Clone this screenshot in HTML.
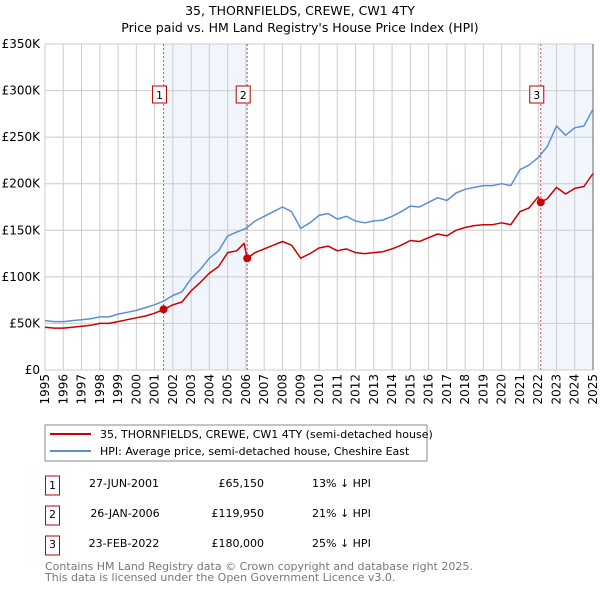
<!DOCTYPE html>
<html><head><meta charset="utf-8"><style>
body{margin:0;background:#fff;width:600px;height:590px;overflow:hidden;font-family:"DejaVu Sans","Liberation Sans",sans-serif;}
svg text{font-family:"DejaVu Sans","Liberation Sans",sans-serif;}
</style></head><body>
<svg id="chart" width="600" height="590">
<text x="300" y="15" text-anchor="middle" font-size="12.5" fill="#000">35, THORNFIELDS, CREWE, CW1 4TY</text>
<text x="300" y="32" text-anchor="middle" font-size="12.5" fill="#000">Price paid vs. HM Land Registry's House Price Index (HPI)</text>
<g id="plot"></g>
<rect x="45" y="425" width="382" height="36" fill="#fff" stroke="#888"/>
<line x1="50" y1="434" x2="91" y2="434" stroke="#cc0000" stroke-width="2"/>
<text x="100" y="438" font-size="11">35, THORNFIELDS, CREWE, CW1 4TY (semi-detached house)</text>
<line x1="50" y1="451" x2="91" y2="451" stroke="#5b8fd4" stroke-width="2"/>
<text x="100" y="455" font-size="11">HPI: Average price, semi-detached house, Cheshire East</text>
<g font-size="11" fill="#000">
<rect x="45.5" y="476" width="14" height="19" fill="#fff" stroke="#b00"/><text x="52.5" y="489" text-anchor="middle">1</text>
<text x="124" y="487" text-anchor="middle">27-JUN-2001</text>
<text x="264" y="487" text-anchor="end">£65,150</text>
<text x="312" y="487">13% ↓ HPI</text>
<rect x="45.5" y="506" width="14" height="19" fill="#fff" stroke="#b00"/><text x="52.5" y="518" text-anchor="middle">2</text>
<text x="125" y="517" text-anchor="middle">26-JAN-2006</text>
<text x="264" y="517" text-anchor="end">£119,950</text>
<text x="312" y="517">21% ↓ HPI</text>
<rect x="45.5" y="536" width="14" height="19" fill="#fff" stroke="#b00"/><text x="52.5" y="548" text-anchor="middle">3</text>
<text x="124" y="547" text-anchor="middle">23-FEB-2022</text>
<text x="264" y="547" text-anchor="end">£180,000</text>
<text x="312" y="547">25% ↓ HPI</text>
</g>
<text x="45" y="570" font-size="11" fill="#777">Contains HM Land Registry data © Crown copyright and database right 2025.</text>
<text x="45" y="581" font-size="11" fill="#777">This data is licensed under the Open Government Licence v3.0.</text>
</svg>
<script>
const hpiYears=[1995,1995.5,1996,1996.5,1997,1997.5,1998,1998.5,1999,1999.5,2000,2000.5,2001,2001.5,2002,2002.5,2003,2003.5,2004,2004.5,2005,2005.5,2006,2006.5,2007,2007.5,2008,2008.5,2009,2009.5,2010,2010.5,2011,2011.5,2012,2012.5,2013,2013.5,2014,2014.5,2015,2015.5,2016,2016.5,2017,2017.5,2018,2018.5,2019,2019.5,2020,2020.5,2021,2021.5,2022,2022.5,2023,2023.5,2024,2024.5,2025];
const hpiValues=[53,52,52,53,54,55,57,57,60,62,64,67,70,74,80,84,98,108,120,128,144,148,152,160,165,170,175,170,152,158,166,168,162,165,160,158,160,161,165,170,176,175,180,185,182,190,194,196,198,198,200,198,215,220,228,240,262,252,260,262,280];
const redYears=[1995,1995.5,1996,1996.5,1997,1997.5,1998,1998.5,1999,1999.5,2000,2000.5,2001,2001.49,2002,2002.5,2003,2003.5,2004,2004.5,2005,2005.5,2005.9,2006.07,2006.5,2007,2007.5,2008,2008.5,2009,2009.5,2010,2010.5,2011,2011.5,2012,2012.5,2013,2013.5,2014,2014.5,2015,2015.5,2016,2016.5,2017,2017.5,2018,2018.5,2019,2019.5,2020,2020.5,2021,2021.5,2022,2022.14,2022.5,2023,2023.5,2024,2024.5,2025];
const redValues=[46,45,45,46,47,48,50,50,52,54,56,58,61,65,70,73,85,94,104,111,126,128,136,120,126,130,134,138,134,120,125,131,133,128,130,126,125,126,127,130,134,139,138,142,146,144,150,153,155,156,156,158,156,170,174,186,180,184,196,189,195,197,211];
const saleYears=[2001.49,2006.07,2022.14];
const salePrices=[65.15,119.95,180];
const saleLabels=["1","2","3"];
const yTicks=[0,50,100,150,200,250,300,350];
const yTickLabels=["£0","£50K","£100K","£150K","£200K","£250K","£300K","£350K"];
const xTicks=[1995,1996,1997,1998,1999,2000,2001,2002,2003,2004,2005,2006,2007,2008,2009,2010,2011,2012,2013,2014,2015,2016,2017,2018,2019,2020,2021,2022,2023,2024,2025];

const L=45,R=593,T=44,B=370;
const xs=y=>L+(y-1995)/30*(R-L);
const ys=v=>B-v/350*(B-T);
const NS="http://www.w3.org/2000/svg";
const g=document.getElementById('plot');
function mk(tag,attrs,parent){const e=document.createElementNS(NS,tag);for(const k in attrs)e.setAttribute(k,attrs[k]);(parent||g).appendChild(e);return e;}

let e;
e=mk('rect',{x:xs(saleYears[0]),y:T,width:xs(saleYears[1])-xs(saleYears[0]),height:B-T,fill:'#eef3fc',opacity:0.8});


e=mk('rect',{x:xs(saleYears[2]),y:T,width:R-xs(saleYears[2]),height:B-T,fill:'#eef3fc',opacity:0.8});



yTicks.forEach((v,i)=>{
 e=mk('line',{x1:L,x2:R,y1:ys(v),y2:ys(v),stroke:'#ccc','stroke-width':1});
 
 
 e=mk('text',{x:L-5,y:ys(v)+4,'text-anchor':'end','font-size':12,fill:'#000'});
 e.textContent=yTickLabels[i];
 
 
});
xTicks.forEach(yr=>{
 e=mk('line',{x1:xs(yr),x2:xs(yr),y1:T,y2:B,stroke:'#ccc','stroke-width':1});
 
 
 e=mk('text',{x:0,y:0,'text-anchor':'end','font-size':12,fill:'#000',transform:`translate(${xs(yr)+4},${B+4}) rotate(-90)`});
 e.textContent=String(yr);
 
 
});
e=mk('line',{x1:R,x2:R,y1:T,y2:B,stroke:'#666','stroke-width':1});



saleYears.forEach((yr,i)=>{
 e=mk('line',{x1:xs(yr),x2:xs(yr),y1:T,y2:B,stroke:'#e05050','stroke-width':1,'stroke-dasharray':'2,2'});
 
 
});

function line(xa,va,col){return mk('path',{d:xa.map((x,i)=>(i?'L':'M')+xs(x).toFixed(1)+','+ys(va[i]).toFixed(1)).join(''),fill:'none',stroke:col,'stroke-width':1.5,'stroke-linejoin':'round'});}
e=line(hpiYears,hpiValues,'#5b8fd4');


e=line(redYears,redValues,'#cc0000');



saleYears.forEach((yr,i)=>{
 e=mk('circle',{cx:xs(yr),cy:ys(salePrices[i]),r:4,fill:'#cc0000'});
 
 
 e=mk('rect',{x:xs(yr)-11,y:86,width:14,height:17,fill:'#fff',stroke:'#b00'});
 
 
 e=mk('text',{x:xs(yr)-4,y:99,'text-anchor':'middle','font-size':11,fill:'#000'});
 e.textContent=saleLabels[i];
 
 
});
</script>
</body></html>
